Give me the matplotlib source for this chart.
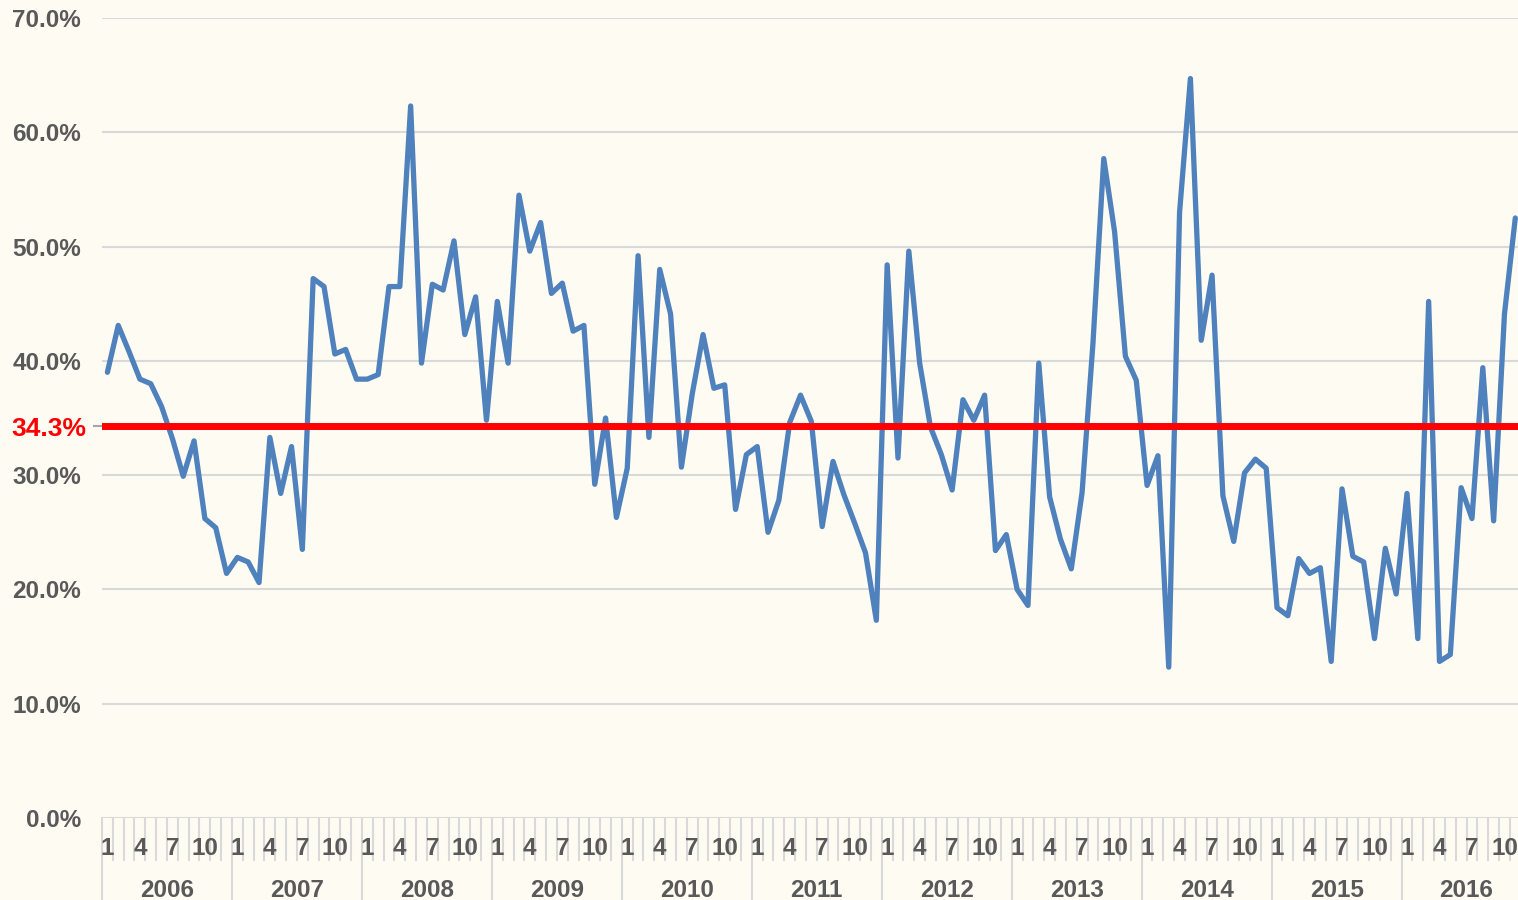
import matplotlib.pyplot as plt

plt.rcParams['font.family'] = ['Liberation Sans', 'DejaVu Sans']

# monthly values, Jan 2006 .. Nov 2016 (%)
years = [2006, 2007, 2008, 2009, 2010, 2011, 2012, 2013, 2014, 2015, 2016]
month_labels = [1, 4, 7, 10]
rates = [
    39.0, 43.1, 40.8, 38.4, 38.0, 36.0, 33.2, 29.9, 33.0, 26.2, 25.4, 21.4,
    22.8, 22.4, 20.6, 33.3, 28.4, 32.5, 23.5, 47.2, 46.5, 40.6, 41.0, 38.4,
    38.4, 38.8, 46.5, 46.5, 62.3, 39.8, 46.7, 46.2, 50.5, 42.3, 45.6, 34.8,
    45.2, 39.8, 54.5, 49.6, 52.1, 45.9, 46.8, 42.6, 43.1, 29.2, 35.0, 26.3,
    30.6, 49.2, 33.3, 48.0, 44.1, 30.7, 37.1, 42.3, 37.6, 37.9, 27.0, 31.8,
    32.5, 25.0, 27.8, 34.6, 37.0, 34.7, 25.5, 31.2, 28.3, 25.8, 23.2, 17.3,
    48.4, 31.5, 49.6, 39.8, 34.2, 31.8, 28.7, 36.6, 34.8, 37.0, 23.4, 24.8,
    20.0, 18.6, 39.8, 28.1, 24.4, 21.8, 28.5, 41.5, 57.7, 51.3, 40.4, 38.3,
    29.1, 31.7, 13.2, 53.0, 64.7, 41.8, 47.5, 28.2, 24.2, 30.2, 31.4, 30.6,
    18.4, 17.7, 22.7, 21.4, 21.9, 13.7, 28.8, 22.9, 22.4, 15.7, 23.6, 19.6,
    28.4, 15.7, 45.2, 13.7, 14.3, 28.9, 26.2, 39.4, 26.0, 44.1, 52.5,
]
average = 34.3

bg = '#FEFBF3'
grey_text = '#595959'
grid_col = '#D9D9D9'

W, H = 1518, 900
fig = plt.figure(figsize=(W / 100, H / 100), dpi=100)
fig.patch.set_facecolor(bg)
ax = fig.add_axes([102 / W, 82 / H, 1 - 102 / W, 800 / H])
ax.set_facecolor(bg)

n = len(rates)
x = list(range(n))
ax.plot(x, rates, color='#4F81BD', lw=3.8, solid_joinstyle='round',
        solid_capstyle='round', zorder=3)
ax.axhline(average, color='#FF0000', lw=5, solid_capstyle='round', zorder=4)

ax.set_xlim(-0.5, 130.25)
ax.set_ylim(0, 70)
for s in ax.spines.values():
    s.set_visible(False)

ax.set_yticks(range(0, 71, 10))
ax.set_yticklabels([f'{v:.1f}%' for v in range(0, 71, 10)], fontweight='bold')
ax.tick_params(axis='y', length=0, pad=15, labelsize=17.5, labelcolor=grey_text)
ax.grid(axis='y', color=grid_col, lw=1.5)
ax.set_axisbelow(True)
ax.set_xticks([])

# average label with its small tick
ytr = ax.get_yaxis_transform()
ax.plot([-8 / 1416, 0], [average, average], transform=ytr, color='#A6A6A6',
        lw=1.5, clip_on=False)
ax.text(-16 / 1416, average, f'{average:.1f}%', transform=ytr, ha='right',
        va='center_baseline', color='#FF0000', fontsize=19, fontweight='bold')

# two-level category axis: month separators, year separators
xtr = ax.get_xaxis_transform()
for k in range(n + 1):
    low = -0.1025 if k % 12 == 0 else -0.0525
    ax.plot([k - 0.5, k - 0.5], [0, low], transform=xtr, color=grid_col,
            lw=1.5, clip_on=False)
for i in range(n):
    m = i % 12 + 1
    if m in month_labels:
        ax.text(i, -0.0385, str(m), transform=xtr, ha='center', va='center',
                fontsize=17.5, fontweight='bold', color=grey_text)
for j, yr in enumerate(years):
    ax.text(j * 12 + 5.5, -0.091, str(yr), transform=xtr, ha='center',
            va='center', fontsize=17.5, fontweight='bold', color=grey_text)

fig.savefig('out.png', dpi=100, facecolor=bg)
